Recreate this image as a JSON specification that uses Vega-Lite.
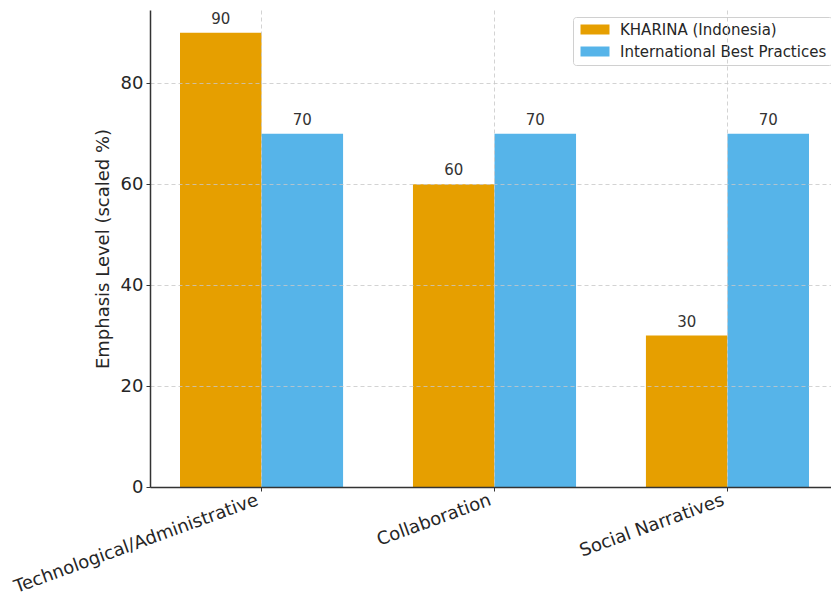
{
  "$schema": "https://vega.github.io/schema/vega-lite/v6.json",
  "width": 681,
  "height": 477,
  "autosize": {"type": "none"},
  "padding": {"left": 150, "top": 10, "right": 0, "bottom": 107},
  "background": "white",
  "config": {
    "font": "DejaVu Sans",
    "view": {"stroke": null},
    "axis": {"labelFont": "DejaVu Sans", "titleFont": "DejaVu Sans", "labelColor": "#262626", "titleColor": "#262626", "titleFontWeight": "normal"}
  },
  "data": {
    "values": [
      {"category": "Technological/Administrative", "series": "KHARINA (Indonesia)", "value": 90},
      {"category": "Technological/Administrative", "series": "International Best Practices", "value": 70},
      {"category": "Collaboration", "series": "KHARINA (Indonesia)", "value": 60},
      {"category": "Collaboration", "series": "International Best Practices", "value": 70},
      {"category": "Social Narratives", "series": "KHARINA (Indonesia)", "value": 30},
      {"category": "Social Narratives", "series": "International Best Practices", "value": 70}
    ]
  },
  "encoding": {
    "x": {
      "field": "category", "type": "nominal", "sort": null,
      "scale": {"paddingInner": 0.3, "paddingOuter": 0.1116, "align": 0.577},
      "axis": {
        "title": null, "labelAngle": -20, "labelAlign": "right", "labelBaseline": "top", "labelOffset": -7,
        "labelFontSize": 18, "labelPadding": 0, "labelLimit": 0, "labelOverlap": false, "tickSize": 4, "tickColor": "#333", "domainColor": "#333", "domainWidth": 1.5,
        "grid": true, "gridDash": [4, 3], "gridColor": "#c8c8c8", "gridWidth": 0.8, "bandPosition": 0.5, "zindex": 1
      }
    },
    "xOffset": {"field": "series", "type": "nominal", "sort": ["KHARINA (Indonesia)", "International Best Practices"], "scale": {"paddingInner": 0, "paddingOuter": 0}},
    "y": {
      "field": "value", "type": "quantitative",
      "scale": {"domain": [0, 94.5], "nice": false},
      "axis": {
        "title": "Emphasis Level (scaled %)", "titleFontSize": 18, "titlePadding": 8,
        "values": [0, 20, 40, 60, 80], "labelFontSize": 18, "labelPadding": 3, "tickSize": 4, "tickColor": "#333",
        "domainColor": "#333", "domainWidth": 1.5,
        "grid": true, "gridDash": [4, 3], "gridColor": "#c8c8c8", "gridWidth": 0.8, "zindex": 1
      }
    }
  },
  "layer": [
    {
      "mark": {"type": "bar"},
      "encoding": {
        "color": {
          "field": "series", "type": "nominal",
          "sort": ["KHARINA (Indonesia)", "International Best Practices"],
          "scale": {"domain": ["KHARINA (Indonesia)", "International Best Practices"], "range": ["#E69F00", "#56B4E9"]},
          "legend": {
            "title": null, "orient": "none", "legendX": 423, "legendY": 7,
            "labelFontSize": 15, "labelColor": "#262626", "labelFont": "DejaVu Sans", "labelLimit": 0,
            "symbolType": "M-1,-1H4.8V1H-1Z", "symbolSize": 100, "symbolStrokeWidth": 0, "symbolOpacity": 1,
            "rowPadding": 6, "labelOffset": 27, "padding": 5,
            "strokeColor": "#d0d0d0", "fillColor": "rgba(255,255,255,0.8)", "cornerRadius": 3
          }
        }
      }
    },
    {
      "mark": {"type": "text", "baseline": "bottom", "dy": -6, "fontSize": 15, "color": "#333", "font": "DejaVu Sans"},
      "encoding": {"text": {"field": "value", "type": "quantitative"}}
    }
  ]
}
